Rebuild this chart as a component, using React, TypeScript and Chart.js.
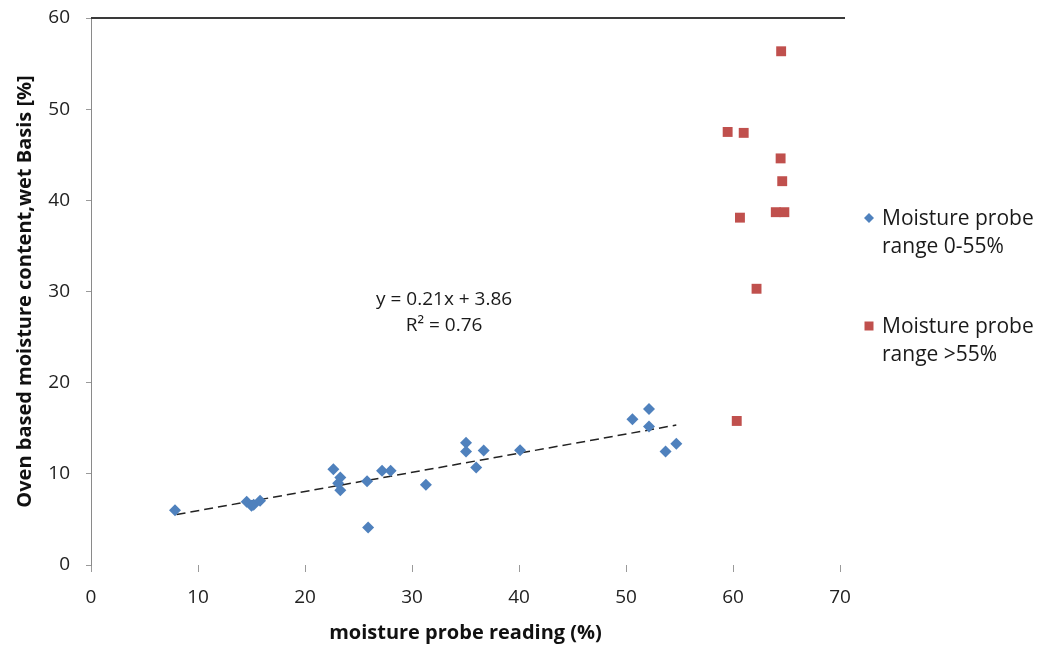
import React, { useEffect, useRef } from "react";
import { Chart, registerables } from "chart.js";

Chart.register(...registerables);

// Moisture probe range 0-55%
const lowX = [7.85, 14.55, 15.0, 15.2, 15.8, 22.65, 23.3, 23.1, 23.3, 25.8, 25.9, 27.2, 28.0, 31.3, 35.05, 35.05, 36.0, 36.7, 40.1, 50.6, 52.15, 52.15, 53.7, 54.7];
const lowY = [6.0, 6.95, 6.5, 6.6, 7.06, 10.5, 9.6, 8.97, 8.2, 9.2, 4.1, 10.35, 10.35, 8.8, 13.4, 12.45, 10.7, 12.55, 12.6, 16.0, 17.1, 15.2, 12.45, 13.3];

// Moisture probe range >55%
const highX = [64.5, 59.5, 61.0, 64.45, 64.6, 60.65, 64.0, 64.8, 62.2, 60.35];
const highY = [56.35, 47.5, 47.4, 44.6, 42.1, 38.1, 38.7, 38.7, 30.3, 15.8];

// Linear trend line for the 0-55% series
const trendSlope = 0.21;
const trendIntercept = 3.86;
const trendX = [8.0, 54.7];

const xTicks = [0, 10, 20, 30, 40, 50, 60, 70];
const yTicks = [0, 10, 20, 30, 40, 50, 60];

const legendLabels = [
  ["Moisture probe", "range 0-55%"],
  ["Moisture probe", "range >55%"],
];
const equationLines = ["y = 0.21x + 3.86", "R² = 0.76"];

const BLUE = "#4F81BD";
const RED = "#C0504D";
const FONT = "'Open Sans', 'DejaVu Sans', sans-serif";

export default function App() {
  const ref = useRef<HTMLCanvasElement | null>(null);

  useEffect(() => {
    if (!ref.current) return;

    const overlay = {
      id: "overlay",
      afterDraw(chart: any) {
        const ctx = chart.ctx;
        const area = chart.chartArea;
        const xs = chart.scales.x;
        const ys = chart.scales.y;
        ctx.save();
        // top border line
        ctx.strokeStyle = "#3a3a3a";
        ctx.lineWidth = 2;
        ctx.beginPath();
        ctx.moveTo(area.left, area.top);
        ctx.lineTo(area.right + 5, area.top);
        ctx.stroke();

        // equation text
        ctx.fillStyle = "#1a1a1a";
        ctx.font = `19px ${FONT}`;
        ctx.textAlign = "center";
        ctx.textBaseline = "middle";
        const ex = xs.getPixelForValue(33);
        ctx.fillText(equationLines[0], ex, ys.getPixelForValue(29.1));
        ctx.fillText(equationLines[1], ex, ys.getPixelForValue(26.3));

        // legend
        ctx.textAlign = "left";
        ctx.font = `21px ${FONT}`;
        const lx = area.right + 29;
        const tx = area.right + 42;
        const rows = [218, 326];
        rows.forEach((ry, i) => {
          ctx.fillStyle = i === 0 ? BLUE : RED;
          ctx.beginPath();
          if (i === 0) {
            ctx.moveTo(lx, ry - 5);
            ctx.lineTo(lx + 5, ry);
            ctx.lineTo(lx, ry + 5);
            ctx.lineTo(lx - 5, ry);
            ctx.closePath();
          } else {
            ctx.rect(lx - 4.5, ry - 4.5, 9, 9);
          }
          ctx.fill();
          ctx.fillStyle = "#1a1a1a";
          ctx.fillText(legendLabels[i][0], tx, ry + 1);
          ctx.fillText(legendLabels[i][1], tx, ry + 29);
        });
        ctx.restore();
      },
    };

    const chart = new Chart(ref.current, {
      type: "scatter",
      data: {
        datasets: [
          {
            label: "Moisture probe range 0-55%",
            data: lowX.map((x, i) => ({ x, y: lowY[i] })),
            backgroundColor: BLUE,
            borderColor: BLUE,
            borderWidth: 0,
            pointStyle: "rectRot",
            pointRadius: 6,
          },
          {
            label: "Moisture probe range >55%",
            data: highX.map((x, i) => ({ x, y: highY[i] })),
            backgroundColor: RED,
            borderColor: RED,
            borderWidth: 0,
            pointStyle: "rect",
            pointRadius: 7,
          },
          {
            type: "line",
            label: "Linear trend",
            data: trendX.map((x) => ({ x, y: trendSlope * x + trendIntercept })),
            borderColor: "#222222",
            borderWidth: 1.5,
            borderDash: [9, 5],
            pointRadius: 0,
            fill: false,
          } as any,
        ],
      },
      options: {
        animation: false,
        responsive: false,
        layout: { padding: { left: 0, top: 18, right: 206, bottom: 0 } },
        plugins: {
          legend: { display: false },
          tooltip: { enabled: false },
        },
        scales: {
          x: {
            type: "linear",
            min: 0,
            max: 70,
            afterBuildTicks: (s: any) => {
              s.ticks = xTicks.map((v) => ({ value: v }));
            },
            afterFit: (s: any) => {
              s.height = 82;
              s.paddingLeft = 0;
              s.paddingRight = 0;
            },
            grid: { display: true, drawOnChartArea: false, drawTicks: true, tickLength: 7, color: "#9a9a9a" },
            border: { display: false },
            ticks: { color: "#222", font: { family: FONT, size: 19 }, padding: 14, maxRotation: 0 },
            title: {
              display: true,
              text: "moisture probe reading (%)",
              color: "#111",
              font: { family: FONT, size: 20, weight: "bold" },
              padding: { top: 0, bottom: 2 },
            },
          },
          y: {
            type: "linear",
            min: 0,
            max: 60,
            afterBuildTicks: (s: any) => {
              s.ticks = yTicks.map((v) => ({ value: v }));
            },
            afterFit: (s: any) => {
              s.width = 91;
              s.paddingTop = 0;
              s.paddingBottom = 0;
            },
            grid: { display: true, drawOnChartArea: false, drawTicks: true, tickLength: 5, color: "#9a9a9a" },
            border: { display: true, color: "#8a8a8a", width: 1 },
            ticks: { color: "#222", font: { family: FONT, size: 19 }, padding: 16 },
            title: {
              display: true,
              text: "Oven based moisture content,wet Basis [%]",
              color: "#111",
              font: { family: FONT, size: 20, weight: "bold" },
              padding: { top: 13, bottom: 0 },
            },
          },
        },
      },
      plugins: [overlay],
    });
    return () => chart.destroy();
  }, []);

  return (
    <div style={{ position: "fixed", left: 0, top: 0, width: 1046, height: 647, background: "#fff" }}>
      <canvas ref={ref} width={1046} height={647} style={{ width: 1046, height: 647, display: "block" }} />
    </div>
  );
}
